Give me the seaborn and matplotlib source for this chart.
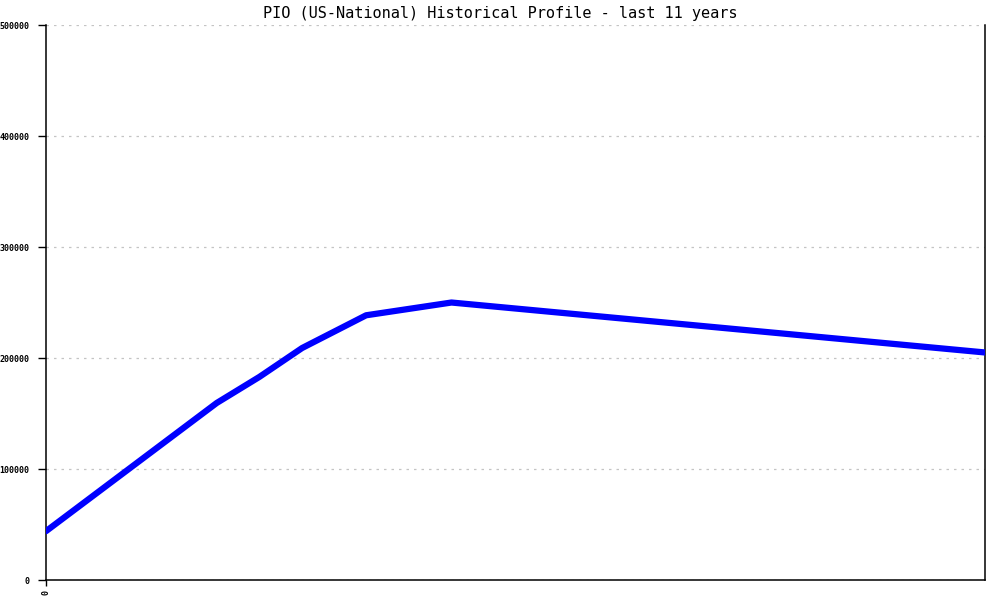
import matplotlib
matplotlib.use("Agg")
import matplotlib.pyplot as plt
import seaborn as sns
import pandas as pd

# half-year steps from the first sample
periods = [0, 4, 5, 6, 7.5, 9.5, 22]
values = [44000, 159500, 183000, 209000, 238500, 250000, 205000]
y_ticks = [0, 100000, 200000, 300000, 400000, 500000]

df = pd.DataFrame({"period": periods, "value": values})

sns.set_style("white")
plt.rcParams["font.family"] = ["DejaVu Sans Mono"]
plt.rcParams["text.color"] = "black"

fig = plt.figure(figsize=(10, 6), dpi=100)
ax = fig.add_axes([0.046, 0.0333, 0.939, 0.925])

sns.lineplot(data=df, x="period", y="value", ax=ax, color="#0000ff",
             linewidth=4.5, solid_joinstyle="round", zorder=3)

ax.set_xlim(0, 22)
ax.set_ylim(0, 500000)
ax.set_yticks(y_ticks)
ax.set_yticklabels([str(v) for v in y_ticks], fontsize=6, fontweight="bold")
ax.set_xticks([0])
ax.set_xticklabels(["0"], rotation=90, fontsize=6, fontweight="bold")
ax.set_xlabel("")
ax.set_ylabel("")

ax.yaxis.grid(True, color="#c4c4c4", linestyle=(0, (2, 4)), linewidth=0.9)
ax.xaxis.grid(False)
ax.tick_params(axis="y", direction="out", length=6, width=1, pad=6,
               color="black", labelcolor="black", left=True)
ax.tick_params(axis="x", direction="out", length=4, width=1, pad=3,
               color="black", labelcolor="black", bottom=True)

for side in ["left", "bottom", "right"]:
    ax.spines[side].set_visible(True)
    ax.spines[side].set_color("black")
    ax.spines[side].set_linewidth(1.1)
ax.spines["top"].set_visible(False)

fig.suptitle("PIO (US-National) Historical Profile - last 11 years",
             y=0.99, fontsize=11, color="black")

fig.savefig("out.png", dpi=100, facecolor="white")
